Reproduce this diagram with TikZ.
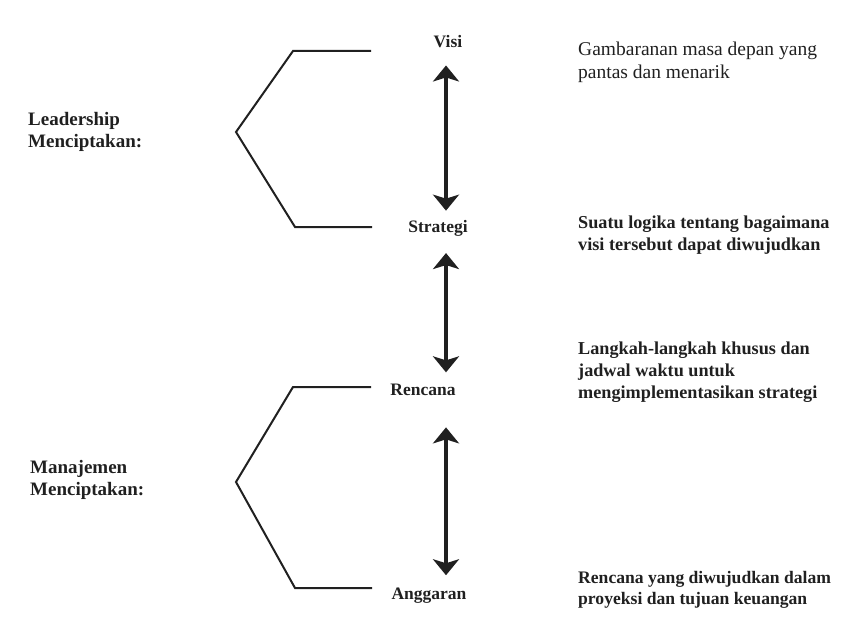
\documentclass[tikz,border=0pt]{standalone}
\usepackage{fontspec}
\setmainfont{Liberation Serif}
\usetikzlibrary{arrows.meta}
\definecolor{ink}{RGB}{32,32,32}
\tikzset{
	stage/.style={inner sep=0pt, text=ink, font=\bfseries\fontsize{17.5}{21}\selectfont},
	lead/.style={inner sep=0pt, text=ink, align=left, font=\bfseries\fontsize{19}{22}\selectfont},
	desc/.style={inner sep=0pt, text=ink, align=left, font=\fontsize{19.5}{23}\selectfont},
	descbold/.style={desc, font=\bfseries\fontsize{18.2}{22}\selectfont},
	descsmall/.style={desc, font=\bfseries\fontsize{17.6}{21}\selectfont},
	bracket/.style={draw=ink, line width=2pt, line join=miter},
	updown/.style={draw=ink, line width=3.5pt, {Stealth[length=16pt,width=26pt,inset=4pt]}-{Stealth[length=16pt,width=26pt,inset=4pt]}}
}
\begin{document}
\begin{tikzpicture}[x=1pt,y=-1pt]
	\useasboundingbox (0,0) rectangle (866,620);
	% middle column
	\node[stage, anchor=base] (visi)     at (448,48)  {Visi};
	\node[stage, anchor=base] (strategi) at (438,233) {Strategi};
	\node[stage, anchor=base] (rencana)  at (423,395) {Rencana};
	\node[stage, anchor=base] (anggaran) at (429,599) {Anggaran};
	\coordinate (axis) at (446,0);
	%
	\node[lead, anchor=north west] (leadership) at (28,112) {Leadership\\Menciptakan:};
	\node[lead, anchor=north west] (manajemen)  at (30,460) {Manajemen\\Menciptakan:};
	%
	\node[desc, anchor=north west]      (dvisi)     at (578,42)  {Gambaranan masa depan yang\\pantas dan menarik};
	\node[descbold, anchor=north west]  (dstrategi) at (578,216) {Suatu logika tentang bagaimana\\visi tersebut dapat diwujudkan};
	\node[descbold, anchor=north west]  (drencana)  at (578,342) {Langkah-langkah khusus dan\\jadwal waktu untuk\\mengimplementasikan strategi};
	\node[descsmall, anchor=north west] (danggaran) at (578,571) {Rencana yang diwujudkan dalam\\proyeksi dan tujuan keuangan};
	%
	\def\links {visi/strategi/17/10, strategi/rencana/16/11, rencana/anggaran/32/12}  % from/to/gap/gap
	\foreach \u/\v/\a/\b in \links
	{	\draw[updown, shorten <=\a pt, shorten >=\b pt] (\u.south -| axis) -- (\v.north -| axis);
	}
	% the two brackets
	\foreach \t/\m/\b in {51/132/227, 387/482/588}
	{	\draw[bracket] (371,\t) -- (293,\t) -- (236,\m) -- (295,\b) -- (372,\b);
	}
\end{tikzpicture}
\end{document}
